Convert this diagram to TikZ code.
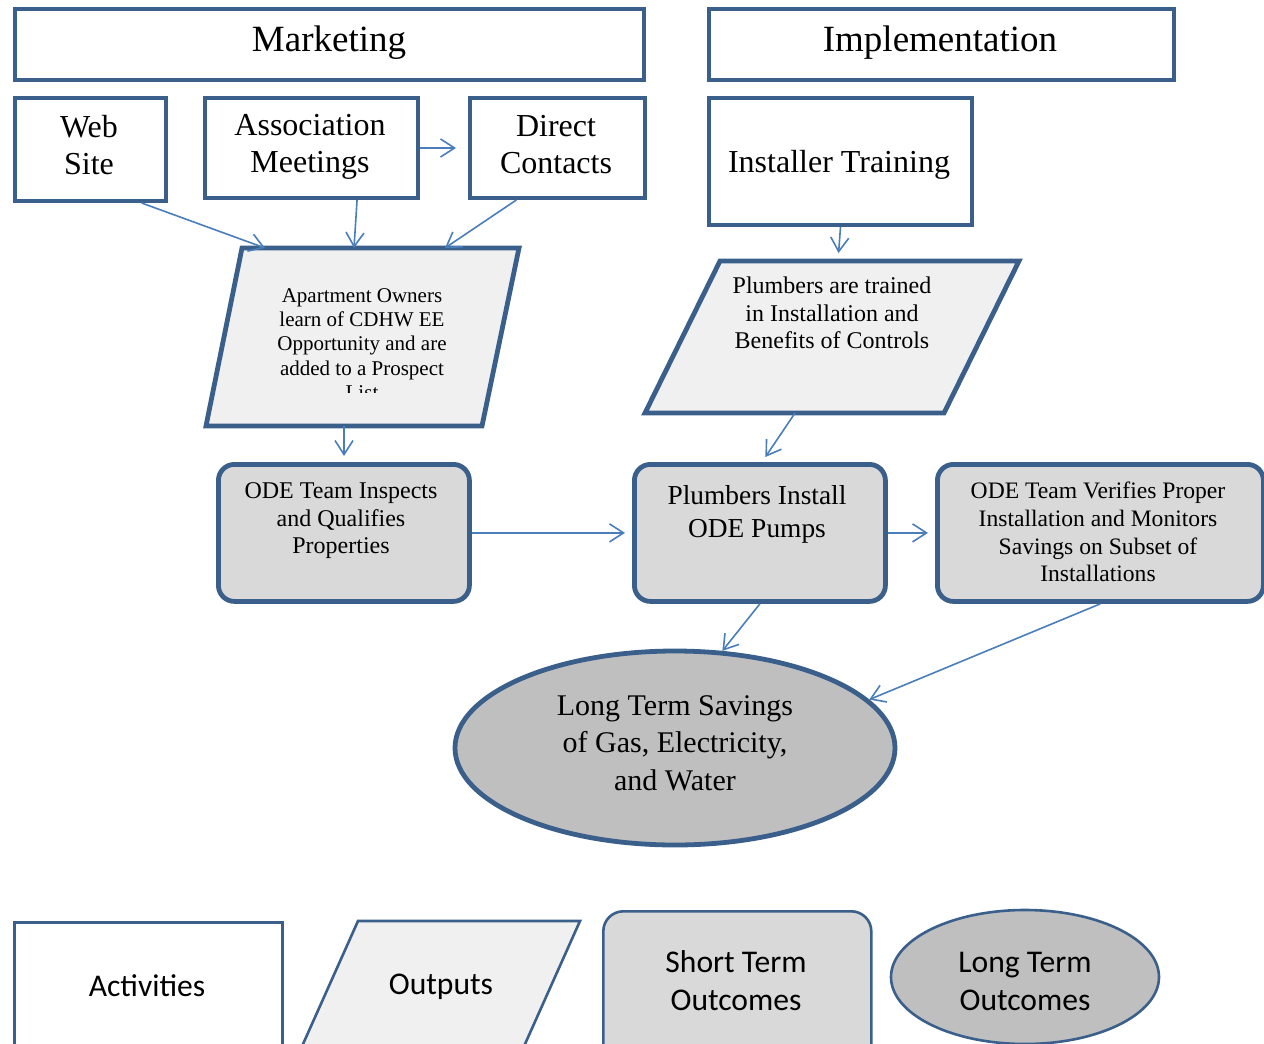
\documentclass[tikz,border=0pt]{standalone}
\usepackage{fontspec}
\setmainfont{Liberation Serif}
\newfontfamily\legendfont{Carlito}
\usetikzlibrary{arrows.meta,calc,shapes.geometric}
\definecolor{edge}{HTML}{3A5F8B}
\definecolor{link}{HTML}{4A7EBB}
\definecolor{outfill}{HTML}{F0F0F0}
\definecolor{stfill}{HTML}{D9D9D9}
\definecolor{ltfill}{HTML}{BFBFBF}
\begin{document}
\begin{tikzpicture}[x=0.5pt,y=-0.5pt,
  actbox/.style={draw=edge,line width=2pt,fill=white,anchor=north west,inner sep=0pt},
  outshape/.style={draw=edge,line width=2.4pt,fill=outfill,line join=miter},
  stbox/.style={draw=edge,line width=2.4pt,fill=stfill,rounded corners=8pt,anchor=north west,inner sep=0pt},
  ltshape/.style={ellipse,draw=edge,line width=2.4pt,fill=ltfill,inner sep=0pt},
  txt/.style={align=center,inner sep=0pt},
  big/.style={font=\fontsize{18.5}{18.5}\selectfont},
  med/.style={font=\fontsize{16}{18.5}\selectfont},
  arr/.style={draw=link,line width=0.8pt,-{Straight Barb[length=7pt,width=9pt,line width=0.8pt]}},
  legbox/.style={draw=edge,line width=1.3pt,inner sep=0pt},
  legtxt/.style={align=center,inner sep=0pt,font=\legendfont\fontsize{15.8}{19}\selectfont}]
\useasboundingbox (0,0) rectangle (1264,1044);
\clip (0,0) rectangle (1264,1044);

% headers
\node[actbox,minimum width=314.5pt,minimum height=35.5pt] (mkt) at (13,7) {};
\node[txt,big] (mkt-t) at (329,43) {Marketing};
\node[actbox,minimum width=232.5pt,minimum height=35.5pt] (impl) at (707,7) {};
\node[txt,big] (impl-t) at (940,43) {Implementation};

% activities
\node[actbox,minimum width=75.5pt,minimum height=51.5pt] (web) at (13,96) {};
\node[txt,med] (web-t) at (89,145) {Web\\Site};
\node[actbox,minimum width=106.5pt,minimum height=50pt] (assoc) at (203,96) {};
\node[txt,med] (assoc-t) at (310,147) {Association\\Meetings};
\node[actbox,minimum width=87.5pt,minimum height=50pt] (direct) at (468,96) {};
\node[txt,med] (direct-t) at (556,145) {Direct\\Contacts};
\node[actbox,minimum width=131.5pt,minimum height=63.5pt] (train) at (707,96) {};
\node[txt,med] (train-t) at (839,165) {Installer Training};

% outputs
\draw[outshape] (242,248) -- (519,248) -- (482,426) -- (206,426) -- cycle;
\coordinate (own-top1) at (265,248);
\coordinate (own-top2) at (354,248);
\coordinate (own-top3) at (445,248);
\coordinate (own-bot) at (344,426);
\begin{scope}
  \clip (250,270) rectangle (480,392);
  \node[txt,font=\fontsize{10.5}{12.15}\selectfont] (own-t) at (362,344)
    {Apartment Owners\\learn of CDHW EE\\Opportunity and are\\added to a Prospect\\List};
\end{scope}

\draw[outshape] (720,261) -- (1019,261) -- (944,413) -- (645,413) -- cycle;
\coordinate (pl-top) at (838,261);
\coordinate (pl-bot) at (795,413);
\node[txt,font=\fontsize{12}{13.8}\selectfont] (pl-t) at (832,313)
  {Plumbers are trained\\in Installation and\\Benefits of Controls};

% short term outcomes
\node[stbox,minimum width=125.5pt,minimum height=68.5pt] (insp) at (216,462) {};
\node[txt,font=\fontsize{12}{13.8}\selectfont] (insp-t) at (341,521)
  {ODE Team Inspects\\and Qualifies\\Properties};
\node[stbox,minimum width=125.5pt,minimum height=68.5pt] (inst) at (632,462) {};
\node[txt,font=\fontsize{13.7}{16.5}\selectfont] (inst-t) at (757,514)
  {Plumbers Install\\ODE Pumps};
\node[stbox,minimum width=163pt,minimum height=68.5pt] (ver) at (935,462) {};
\node[txt,font=\fontsize{11.8}{13.85}\selectfont] (ver-t) at (1098,532)
  {ODE Team Verifies Proper\\Installation and Monitors\\Savings on Subset of\\Installations};

% long term outcome
\node[ltshape,minimum width=220pt,minimum height=97pt] (lts) at (675,748) {};
\node[txt,font=\fontsize{15}{18.75}\selectfont] (lts-t) at (675,743)
  {Long Term Savings\\of Gas, Electricity,\\and Water};

% connectors
\draw[arr] ($(web.south west)!0.83!(web.south east)$) -- (own-top1);
\draw[arr] ($(assoc.south west)!0.71!(assoc.south east)$) -- (own-top2);
\draw[arr] ($(direct.south west)!0.27!(direct.south east)$) -- (own-top3);
\draw[arr,shorten >=6pt] (assoc.east) -- (direct.west);
\draw[arr,shorten >=4pt] (train.south) -- (pl-top);
\draw[arr,shorten >=3pt] (own-bot) -- (insp.north -| own-bot);
\draw[arr,shorten >=3pt] (pl-bot) -- (762,462);
\draw[arr,shorten >=3.5pt] (insp.east) -- (inst.west);
\draw[arr,shorten >=3.5pt] (inst.east) -- (ver.west);
\draw[arr] (inst.south) -- (lts.64);
\draw[arr] (ver.south) -- (lts.14);

% legend
\node[legbox,fill=white,anchor=north west,minimum width=134pt,minimum height=80pt] (leg-act) at (13,921) {};
\node[legtxt] (leg-act-t) at (147,986) {Activities};
\draw[legbox,fill=outfill] (358,921) -- (580,921) -- (500,1100) -- (278,1100) -- cycle;
\node[legtxt] (leg-out-t) at (441,987) {Outputs};
\node[legbox,fill=stfill,rounded corners=10pt,anchor=north west,minimum width=134pt,minimum height=90pt] (leg-st) at (602,910) {};
\node[legtxt] (leg-st-t) at (736,981) {Short Term\\Outcomes};
\node[legbox,ellipse,fill=ltfill,minimum width=134pt,minimum height=67pt] (leg-lt) at (1025,977) {};
\node[legtxt] (leg-lt-t) at (1025,981) {Long Term\\Outcomes};
\end{tikzpicture}
\end{document}
